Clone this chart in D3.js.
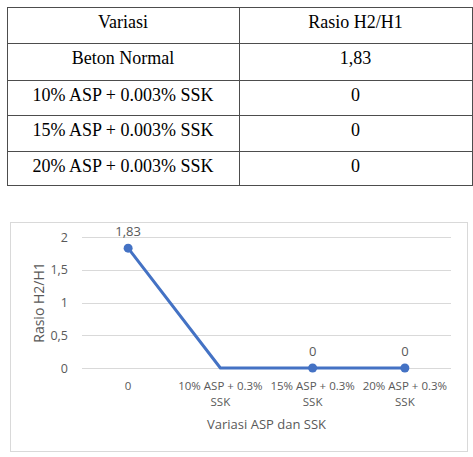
<!DOCTYPE html>
<html>
<head>
<meta charset="utf-8">
<script src="https://cdn.jsdelivr.net/npm/d3@7"></script>
<style>
  body { margin: 0; background: #fff; }
  svg { display: block; }
  .tbl text { font-family: "Liberation Serif", "DejaVu Serif", serif; }
</style>
</head>
<body>
<svg id="fig" width="473" height="457"></svg>
<script>
// data from the table
const tableHeader = ["Variasi", "Rasio H2/H1"];
const tableVariasi = ["Beton Normal", "10% ASP + 0.003% SSK", "15% ASP + 0.003% SSK", "20% ASP + 0.003% SSK"];
const tableRasio = ["1,83", "0", "0", "0"];

// data for the chart
const categories = ["0", "10% ASP + 0.3% SSK", "15% ASP + 0.3% SSK", "20% ASP + 0.3% SSK"];
const rasio = [1.83, 0, 0, 0];
const hasMarker = [true, false, true, true];
const yTicks = [0, 0.5, 1, 1.5, 2];

const svg = d3.select("#fig");
const fmt = v => String(v).replace(".", ",");

// ---- table ----
let tbl = {left: 7, right: 472, top: 7, rowH: [36, 37, 35, 36, 34], split: 239};
let rowsY = [tbl.top];
tbl.rowH.forEach(h => rowsY.push(rowsY[rowsY.length - 1] + h));
let tg = svg.append("g").attr("class", "tbl")
    .attr("font-size", 18).attr("fill", "#000");

rowsY.forEach(y => {
    tg.append("line").attr("x1", tbl.left).attr("x2", tbl.right)
        .attr("y1", y + 0.5).attr("y2", y + 0.5).attr("stroke", "#4d4d4d");
});
[tbl.left, tbl.split, tbl.right].forEach(x => {
    tg.append("line").attr("x1", x + 0.5).attr("x2", x + 0.5)
        .attr("y1", rowsY[0]).attr("y2", rowsY[rowsY.length - 1] + 1).attr("stroke", "#4d4d4d");
});
let rows = [tableHeader].concat(tableVariasi.map((v, i) => [v, tableRasio[i]]));
rows.forEach((r, i) => {
    let y = rowsY[i] + 21;
    tg.append("text").attr("x", (tbl.left + tbl.split) / 2).attr("y", y)
        .attr("text-anchor", "middle").text(r[0]);
    tg.append("text").attr("x", (tbl.split + tbl.right) / 2).attr("y", y)
        .attr("text-anchor", "middle").text(r[1]);
});

// ---- chart ----
let cfg = {boxX: 10, boxY: 222, boxW: 457, boxH: 229, left: 82, right: 451, top: 237, bottom: 368};
let grey = "#595959";
let cg = svg.append("g").attr("font-family", "'Open Sans', sans-serif");

cg.append("rect").attr("x", cfg.boxX + 0.5).attr("y", cfg.boxY + 0.5)
    .attr("width", cfg.boxW).attr("height", cfg.boxH)
    .attr("fill", "#fff").attr("stroke", "#d9d9d9");

let x = d3.scaleBand().domain(categories).range([cfg.left, cfg.right]);
let y = d3.scaleLinear().domain([0, 2]).range([cfg.bottom, cfg.top]);

// gridlines
cg.append("g").selectAll("line").data(yTicks).join("line")
    .attr("x1", cfg.left).attr("x2", cfg.right)
    .attr("y1", d => Math.round(y(d)) + 0.5).attr("y2", d => Math.round(y(d)) + 0.5)
    .attr("stroke", "#d9d9d9");

// y axis
let yAxis = cg.append("g").attr("transform", `translate(${cfg.left},0)`)
    .call(d3.axisLeft(y).tickValues(yTicks).tickFormat(fmt).tickSize(0).tickPadding(14));
yAxis.select(".domain").remove();
yAxis.selectAll("text").attr("fill", grey).attr("font-size", 12.5).attr("font-family", "'Open Sans', sans-serif");

// x axis
let xAxis = cg.append("g").attr("transform", `translate(0,${cfg.bottom})`)
    .call(d3.axisBottom(x).tickSize(0).tickPadding(14));
xAxis.select(".domain").remove();
xAxis.selectAll("text").attr("fill", grey).attr("font-size", 11.5).attr("font-family", "'Open Sans', sans-serif")
    .each(function(d) {
        let t = d3.select(this);
        let m = d.match(/^(.*%) (SSK)$/);
        if (!m) return;
        t.text(null).attr("dy", null);
        t.append("tspan").attr("x", 0).attr("dy", "0.71em").text(m[1]);
        t.append("tspan").attr("x", 0).attr("dy", "1.4em").text(m[2]);
    });

// axis titles
cg.append("text").attr("x", (cfg.left + cfg.right) / 2).attr("y", 429)
    .attr("text-anchor", "middle").attr("fill", grey).attr("font-size", 13)
    .text("Variasi ASP dan SSK");
cg.append("text").attr("transform", `translate(44,${(cfg.top + cfg.bottom) / 2}) rotate(-90)`)
    .attr("text-anchor", "middle").attr("fill", grey).attr("font-size", 14)
    .text("Rasio H2/H1");

// line
let cx = d => x(d) + x.bandwidth() / 2;
let line = d3.line().x((d, i) => cx(categories[i])).y(d => y(d));
cg.append("path").datum(rasio).attr("d", line)
    .attr("fill", "none").attr("stroke", "#4472c4").attr("stroke-width", 3)
    .attr("stroke-linejoin", "round");

let pts = rasio.map((v, i) => ({cat: categories[i], v: v, show: hasMarker[i]})).filter(d => d.show);
cg.append("g").selectAll("circle").data(pts).join("circle")
    .attr("cx", d => cx(d.cat)).attr("cy", d => y(d.v)).attr("r", 4.5)
    .attr("fill", "#4472c4");
cg.append("g").selectAll("text").data(pts).join("text")
    .attr("x", d => cx(d.cat)).attr("y", d => y(d.v) - 12)
    .attr("text-anchor", "middle").attr("fill", grey).attr("font-size", 13)
    .text(d => fmt(d.v));
</script>
</body>
</html>
